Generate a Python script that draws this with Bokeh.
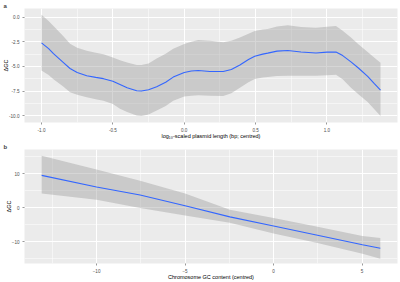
from bokeh.plotting import figure
from bokeh.layouts import column
from bokeh.models import Range1d, FixedTicker, PrintfTickFormatter, ColumnDataSource
from bokeh.embed import file_html
from bokeh.resources import INLINE

# Panel a: loess fit of GC difference against log10 plasmid length (centred)
len_x = [-1.0, -0.95, -0.916, -0.85, -0.8, -0.75, -0.683, -0.62, -0.566, -0.5, -0.45,
         -0.4, -0.333, -0.3, -0.25, -0.193, -0.13, -0.077, 0.0, 0.05, 0.098, 0.18,
         0.273, 0.33, 0.39, 0.45, 0.494, 0.55, 0.585, 0.65, 0.725, 0.818, 0.923,
         1.0, 1.063, 1.11, 1.168, 1.22, 1.285, 1.33, 1.375]
len_fit = [-2.62, -3.2, -3.7, -4.55, -5.2, -5.6, -5.93, -6.1, -6.23, -6.5, -6.82,
           -7.15, -7.45, -7.48, -7.35, -7.05, -6.6, -6.07, -5.6, -5.45, -5.41, -5.5,
           -5.51, -5.3, -4.85, -4.3, -3.97, -3.75, -3.65, -3.45, -3.38, -3.54, -3.64,
           -3.55, -3.54, -3.9, -4.53, -5.15, -6.0, -6.7, -7.38]
len_lo = [-5.41, -5.85, -6.3, -7.0, -7.6, -7.85, -8.1, -8.3, -8.46, -8.8, -9.28,
          -9.6, -9.94, -10.0, -9.85, -9.45, -9.0, -8.46, -8.03, -7.95, -7.9, -7.95,
          -7.97, -7.7, -7.15, -6.6, -6.26, -6.1, -6.05, -5.95, -5.93, -5.93, -5.93,
          -5.88, -5.84, -6.3, -7.15, -7.8, -8.6, -9.3, -10.0]
len_hi = [0.24, -0.4, -0.9, -1.9, -2.7, -3.1, -3.4, -3.6, -3.77, -4.1, -4.36,
          -4.6, -4.85, -4.85, -4.7, -4.2, -3.7, -3.2, -2.72, -2.5, -2.33, -2.4,
          -2.56, -2.4, -2.07, -1.7, -1.41, -1.25, -1.2, -0.95, -0.82, -1.0, -1.08,
          -0.98, -0.92, -1.4, -2.07, -2.75, -3.54, -4.1, -4.62]

# Panel b: fit of GC difference against chromosome GC content (centred)
gc_x = [-13.1, -10.0, -7.54, -5.0, -2.47, 0.0, 2.48, 5.02, 6.03]
gc_fit = [9.5, 6.1, 3.75, 0.58, -2.7, -5.4, -8.1, -10.9, -11.9]
gc_lo = [4.2, 2.3, -0.1, -2.3, -4.4, -7.6, -10.4, -13.5, -15.0]
gc_hi = [15.3, 11.2, 7.9, 4.2, -0.6, -3.0, -5.6, -8.3, -8.9]

a_xticks = [-1.0, -0.5, 0.0, 0.5, 1.0]
a_xminor = [-0.75, -0.25, 0.25, 0.75, 1.25]
a_yticks = [-10.0, -7.5, -5.0, -2.5, 0.0]
a_yminor = [-8.75, -6.25, -3.75, -1.25]
b_xticks = [-10, -5, 0, 5]
b_xminor = [-12.5, -7.5, -2.5, 2.5]
b_yticks = [-10, 0, 10]
b_yminor = [-15, -5, 5, 15]

FONT = "Liberation Sans"


def panel(letter, xr, yr, xt, xm, yt, ym, xlabel, fmt):
    p = figure(width=400, height=141, output_backend="svg", toolbar_location=None,
               x_range=Range1d(*xr), y_range=Range1d(*yr),
               min_border_left=24, min_border_right=3, min_border_top=0,
               min_border_bottom=17)
    p.background_fill_color = "#EBEBEB"
    p.border_fill_color = "white"
    p.outline_line_color = None
    # panel tag drawn as a left-aligned title above the frame
    p.title.text = letter
    p.title.align = "left"
    p.title.offset = -21
    p.title.standoff = 0
    p.title.text_font = FONT
    p.title.text_font_size = "6px"
    p.title.text_font_style = "bold"
    p.xaxis.ticker = FixedTicker(ticks=xt, minor_ticks=xm)
    p.yaxis.ticker = FixedTicker(ticks=yt, minor_ticks=ym)
    if fmt:
        p.xaxis.formatter = PrintfTickFormatter(format=fmt)
        p.yaxis.formatter = PrintfTickFormatter(format=fmt)
    for g in (p.xgrid, p.ygrid):
        g.grid_line_color = "white"
        g.grid_line_width = 1.0
        g.minor_grid_line_color = "white"
        g.minor_grid_line_width = 0.5
    for ax in (p.xaxis, p.yaxis):
        ax.axis_line_color = None
        ax.major_tick_line_color = "#333333"
        ax.major_tick_line_width = 0.5
        ax.major_tick_out = 2
        ax.major_tick_in = 0
        ax.minor_tick_line_color = None
        ax.major_label_text_font = FONT
        ax.major_label_text_font_size = "4.6px"
        ax.major_label_text_color = "#4D4D4D"
        ax.major_label_standoff = 1
        ax.axis_label_text_font = FONT
        ax.axis_label_text_font_size = "5.5px"
        ax.axis_label_text_font_style = "normal"
        ax.axis_label_text_color = "black"
    p.xaxis.axis_label_standoff = -2
    p.yaxis.axis_label_standoff = -3
    p.xaxis.axis_label = xlabel
    p.yaxis.axis_label = "ΔGC"
    return p


pa = panel("a", (-1.119, 1.494), (-10.66, 0.86), a_xticks, a_xminor, a_yticks, a_yminor,
           "log₁₀-scaled plasmid length (bp; centred)", "%.1f")
src_a = ColumnDataSource(dict(x=len_x, fit=len_fit, lo=len_lo, hi=len_hi))
pa.varea(x="x", y1="lo", y2="hi", source=src_a, fill_color="#999999", fill_alpha=0.4)
pa.line(x="x", y="fit", source=src_a, line_color="#3366FF", line_width=1.1)

pb = panel("b", (-14.07, 7.0), (-16.4, 17.1), b_xticks, b_xminor, b_yticks, b_yminor,
           "Chromosome GC content (centred)", None)
src_b = ColumnDataSource(dict(x=gc_x, fit=gc_fit, lo=gc_lo, hi=gc_hi))
pb.varea(x="x", y1="lo", y2="hi", source=src_b, fill_color="#999999", fill_alpha=0.4)
pb.line(x="x", y="fit", source=src_b, line_color="#3366FF", line_width=1.1)

layout = column(pa, pb, spacing=0)
open("out.html", "w").write(file_html(layout, INLINE))
